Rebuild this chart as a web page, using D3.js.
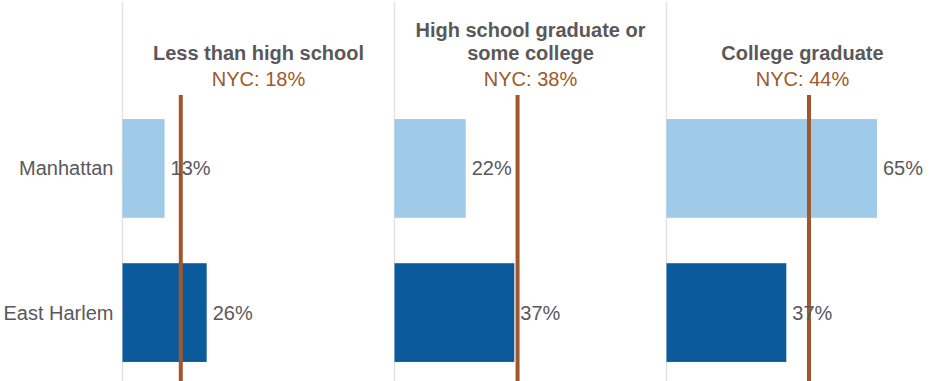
<!DOCTYPE html>
<html>
<head>
<meta charset="utf-8">
<script src="https://cdn.jsdelivr.net/npm/d3@7"></script>
<style>
	body { margin: 0; background: #fff; }
	text { font-family: 'Liberation Sans', Arial, sans-serif; }
</style>
</head>
<body>
<svg id="chart" width="937" height="381"></svg>
<script>
var groups = ['Less than high school', 'High school graduate or some college', 'College graduate'];
var groupLines = [['Less than high school'], ['High school graduate or', 'some college'], ['College graduate']];
var regions = ['Manhattan', 'East Harlem'];
var manhattan = [13, 22, 65];
var eastHarlem = [26, 37, 37];
var nyc = [18, 38, 44];

var svg = d3.select('#chart'),
	width = +svg.attr('width'),
	height = +svg.attr('height');

var colors = { 'Manhattan': '#a0cbe8', 'East Harlem': '#0b5a9c' };
var gray = '#595959', brown = '#a0572b';

var scalePanel = d3.scaleBand().domain(groups).range([122.5, 938.5]);
var scaleX = d3.scaleLinear().domain([0, 84]).range([0, scalePanel.bandwidth()]);
var scaleY = d3.scaleBand().domain(regions).range([96, 385]).paddingInner(0.315).paddingOuter(0.16);

// row labels
svg.append('g').selectAll('text')
	.data(regions)
	.enter().append('text')
	.attr('x', scalePanel(groups[0]) - 9)
	.attr('y', function (d) { return scaleY(d) + scaleY.bandwidth() / 2; })
	.attr('dy', '0.35em')
	.attr('text-anchor', 'end')
	.attr('font-size', 20)
	.attr('fill', gray)
	.text(function (d) { return d; });

groups.forEach(function (grp, i) {
	var x0 = scalePanel(grp);
	var g = svg.append('g').attr('transform', 'translate(' + x0 + ',0)');
	var values = [manhattan[i], eastHarlem[i]];

	// baseline
	g.append('line')
		.attr('x1', 0).attr('x2', 0)
		.attr('y1', 2).attr('y2', height)
		.attr('stroke', '#e2e2e2')
		.attr('stroke-width', 1.5);

	// title
	var title = g.append('text')
		.attr('x', scalePanel.bandwidth() / 2)
		.attr('text-anchor', 'middle')
		.attr('font-size', 20)
		.attr('font-weight', 'bold')
		.attr('fill', gray);
	var lines = groupLines[i];
	lines.forEach(function (l, j) {
		title.append('tspan')
			.attr('x', scalePanel.bandwidth() / 2)
			.attr('y', 60 - (lines.length - 1 - j) * 23.5)
			.text(l);
	});

	g.append('text')
		.attr('x', scalePanel.bandwidth() / 2)
		.attr('y', 86)
		.attr('text-anchor', 'middle')
		.attr('font-size', 20)
		.attr('fill', brown)
		.text('NYC: ' + nyc[i] + '%');

	// bars
	g.selectAll('rect')
		.data(values)
		.enter().append('rect')
		.attr('x', 0)
		.attr('y', function (d, k) { return scaleY(regions[k]); })
		.attr('width', function (d) { return scaleX(d); })
		.attr('height', scaleY.bandwidth())
		.attr('fill', function (d, k) { return colors[regions[k]]; });

	// nyc marker
	g.append('line')
		.attr('x1', scaleX(nyc[i])).attr('x2', scaleX(nyc[i]))
		.attr('y1', 95).attr('y2', height)
		.attr('stroke', brown)
		.attr('stroke-width', 4);

	// value labels
	g.selectAll('.val')
		.data(values)
		.enter().append('text')
		.attr('class', 'val')
		.attr('x', function (d) { return scaleX(d) + 6; })
		.attr('y', function (d, k) { return scaleY(regions[k]) + scaleY.bandwidth() / 2; })
		.attr('dy', '0.35em')
		.attr('font-size', 20)
		.attr('fill', gray)
		.text(function (d) { return d + '%'; });
});
</script>
</body>
</html>
